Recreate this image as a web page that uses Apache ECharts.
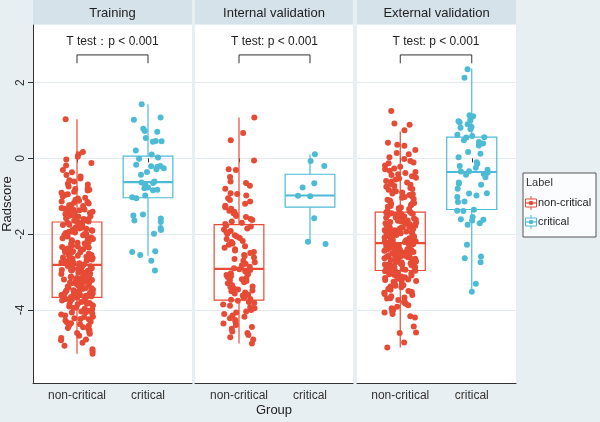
<!DOCTYPE html>
<html>
<head>
<meta charset="utf-8">
<script src="https://cdn.jsdelivr.net/npm/echarts@6/dist/echarts.min.js"></script>
<style>
    html, body { margin: 0; padding: 0; background: #e8eff3; }
    #main { width: 600px; height: 422px; }
</style>
</head>
<body>
<div id="main"></div>
<script>
    // data
    var categories = ['non-critical', 'critical'];
    var panels = ['Training', 'Internal validation', 'External validation'];
    var tests = ['T test\uff1ap < 0.001', 'T test: p < 0.001', 'T test: p < 0.001'];
    var yTicks = [-4, -2, 0, 2];
    var bracket = [2.51, 2.73];

    // [min, q1, median, q3, max] for non-critical, critical
    var trainBox = [[-5.16, -3.67, -2.81, -1.68, 1.03], [-2.57, -1.04, -0.63, 0.06, 1.43]];
    var intBox = [[-4.89, -3.74, -2.92, -1.75, 1.08], [-2.24, -1.29, -0.98, -0.42, 0.11]];
    var extBox = [[-4.99, -2.96, -2.24, -1.42, 0.71], [-3.52, -1.35, -0.36, 0.56, 2.37]];

    var trainNon = [1.03, 0.17, 0.11, 0.04, -0.03, -0.12, -0.19, -0.31, -0.37, -0.44, -0.48, -0.53, -0.58, -0.61, -0.67, -0.69,
        -0.74, -0.78, -0.81, -0.85, -0.88, -0.91, -0.95, -0.97, -1.01, -1.04, -1.06, -1.09, -1.12, -1.14, -1.17, -1.19, -1.23,
        -1.24, -1.26, -1.29, -1.31, -1.33, -1.35, -1.37, -1.38, -1.41, -1.43, -1.45, -1.47, -1.49, -1.5, -1.53, -1.54, -1.56,
        -1.58, -1.6, -1.61, -1.63, -1.65, -1.66, -1.67, -1.7, -1.72, -1.73, -1.76, -1.78, -1.8, -1.82, -1.83, -1.86, -1.88,
        -1.9, -1.91, -1.94, -1.96, -1.97, -2.0, -2.02, -2.03, -2.06, -2.08, -2.09, -2.12, -2.13, -2.16, -2.18, -2.19, -2.22,
        -2.23, -2.26, -2.28, -2.3, -2.31, -2.34, -2.35, -2.38, -2.4, -2.41, -2.44, -2.45, -2.48, -2.5, -2.52, -2.53, -2.56,
        -2.57, -2.6, -2.62, -2.63, -2.66, -2.67, -2.7, -2.71, -2.74, -2.76, -2.77, -2.79, -2.8, -2.82, -2.84, -2.85, -2.88,
        -2.89, -2.91, -2.92, -2.94, -2.96, -2.97, -2.99, -3.01, -3.02, -3.04, -3.06, -3.07, -3.09, -3.11, -3.12, -3.14, -3.16,
        -3.17, -3.19, -3.21, -3.22, -3.24, -3.26, -3.27, -3.29, -3.31, -3.32, -3.34, -3.36, -3.38, -3.39, -3.41, -3.43, -3.44,
        -3.46, -3.48, -3.5, -3.51, -3.53, -3.55, -3.57, -3.58, -3.6, -3.62, -3.63, -3.65, -3.66, -3.68, -3.7, -3.72, -3.75,
        -3.77, -3.79, -3.82, -3.84, -3.86, -3.89, -3.91, -3.94, -3.97, -3.99, -4.02, -4.04, -4.07, -4.1, -4.12, -4.15, -4.19,
        -4.22, -4.25, -4.28, -4.31, -4.35, -4.38, -4.42, -4.46, -4.5, -4.54, -4.59, -4.63, -4.68, -4.74, -4.8, -4.87, -4.95,
        -5.04, -5.16, -0.83, -1.15, -1.36, -1.52, -1.62, -1.75, -1.85, -1.99, -2.11, -2.21, -2.33, -2.43, -2.55, -2.65,
        -2.73, -2.86, -2.95, -3.05, -3.13, -3.2, -3.28, -3.35, -3.42, -3.49, -3.56, -3.64, -3.71, -3.8, -3.88, -3.95, -4.06,
        -4.18, -4.33, -4.48, -4.61, -1.44, -1.69, -1.93, -2.25, -2.47, -2.69, -2.9, -3.1, -3.3, -3.47, -3.61, -3.85, -4.01,
        -4.24, -4.41, -4.78, -5.09];
    var trainCrit = [1.43, 1.08, 1.02, 0.78, 0.72, 0.7, 0.54, 0.46, 0.45, 0.44, 0.21, 0.1, 0.02, -0.01, -0.17, -0.2, -0.21,
        -0.22, -0.26, -0.29, -0.36, -0.43, -0.61, -0.64, -0.65, -0.7, -0.77, -0.79, -0.83, -0.84, -0.98, -1.03, -1.05, -1.48,
        -1.51, -1.59, -1.64, -1.68, -1.84, -1.89, -1.99, -2.45, -2.47, -2.55, -2.7, -2.96];
    var intNon = [1.08, 0.67, 0.48, -0.06, -0.29, -0.31, -0.49, -0.61, -0.65, -0.72, -0.8, -0.92, -0.94, -0.98, -1.05, -1.1,
        -1.14, -1.2, -1.25, -1.29, -1.33, -1.38, -1.41, -1.45, -1.48, -1.52, -1.55, -1.6, -1.63, -1.67, -1.7, -1.73, -1.77,
        -1.8, -1.85, -1.88, -1.92, -1.95, -1.99, -2.03, -2.06, -2.1, -2.13, -2.18, -2.21, -2.25, -2.28, -2.32, -2.36, -2.4,
        -2.43, -2.47, -2.5, -2.55, -2.58, -2.62, -2.66, -2.7, -2.74, -2.78, -2.82, -2.86, -2.9, -2.93, -2.95, -2.98, -3.01,
        -3.03, -3.06, -3.08, -3.11, -3.13, -3.16, -3.19, -3.21, -3.24, -3.27, -3.3, -3.33, -3.35, -3.38, -3.4, -3.43, -3.46,
        -3.49, -3.51, -3.54, -3.57, -3.6, -3.62, -3.65, -3.68, -3.71, -3.73, -3.76, -3.79, -3.82, -3.86, -3.89, -3.93, -3.96,
        -4.0, -4.04, -4.07, -4.11, -4.15, -4.18, -4.22, -4.27, -4.31, -4.36, -4.4, -4.45, -4.5, -4.57, -4.61, -4.66, -4.72,
        -4.78, -4.89];
    var intCrit = [0.11, -0.07, -0.2, -0.66, -0.77, -0.99, -1.0, -1.58, -2.2, -2.26];
    var extNon = [1.25, 0.92, 0.89, 0.74, 0.41, 0.36, 0.33, 0.22, 0.14, 0.11, 0.03, -0.02, -0.07, -0.11, -0.13, -0.19, -0.22,
        -0.27, -0.29, -0.33, -0.36, -0.39, -0.42, -0.44, -0.47, -0.51, -0.53, -0.56, -0.6, -0.61, -0.64, -0.68, -0.7, -0.73,
        -0.75, -0.78, -0.81, -0.83, -0.86, -0.87, -0.9, -0.93, -0.95, -0.97, -1.0, -1.02, -1.04, -1.07, -1.09, -1.11, -1.13,
        -1.16, -1.18, -1.2, -1.22, -1.24, -1.26, -1.28, -1.3, -1.32, -1.34, -1.36, -1.38, -1.4, -1.43, -1.44, -1.45, -1.47,
        -1.48, -1.49, -1.5, -1.52, -1.53, -1.54, -1.56, -1.57, -1.58, -1.59, -1.61, -1.62, -1.63, -1.64, -1.66, -1.67, -1.68,
        -1.7, -1.71, -1.72, -1.73, -1.75, -1.76, -1.77, -1.78, -1.8, -1.81, -1.82, -1.84, -1.85, -1.86, -1.87, -1.89, -1.9,
        -1.91, -1.93, -1.94, -1.95, -1.96, -1.98, -1.99, -2.0, -2.02, -2.03, -2.04, -2.05, -2.07, -2.08, -2.09, -2.11, -2.12,
        -2.13, -2.14, -2.16, -2.17, -2.18, -2.2, -2.21, -2.22, -2.23, -2.25, -2.26, -2.27, -2.29, -2.3, -2.31, -2.32, -2.34,
        -2.35, -2.36, -2.37, -2.39, -2.4, -2.41, -2.42, -2.44, -2.45, -2.46, -2.47, -2.49, -2.5, -2.51, -2.52, -2.54, -2.55,
        -2.56, -2.57, -2.59, -2.6, -2.61, -2.62, -2.64, -2.65, -2.66, -2.67, -2.69, -2.7, -2.71, -2.72, -2.74, -2.75, -2.76,
        -2.77, -2.79, -2.8, -2.81, -2.82, -2.84, -2.85, -2.86, -2.87, -2.89, -2.9, -2.91, -2.92, -2.94, -2.95, -2.97, -2.99,
        -3.01, -3.03, -3.04, -3.06, -3.08, -3.1, -3.12, -3.14, -3.16, -3.18, -3.2, -3.22, -3.24, -3.26, -3.28, -3.31, -3.33,
        -3.35, -3.38, -3.4, -3.42, -3.45, -3.47, -3.5, -3.53, -3.55, -3.58, -3.61, -3.64, -3.67, -3.7, -3.74, -3.77, -3.8,
        -3.84, -3.88, -3.92, -3.96, -4.0, -4.04, -4.07, -4.11, -4.17, -4.2, -4.44, -4.6, -4.61, -4.86, -4.99, -1.46, -1.65,
        -1.83, -1.97, -2.06, -2.19, -2.28, -2.38, -2.48, -2.58, -2.68, -2.78, -2.88, -2.98, -3.09, -3.21, -3.36, -3.52, -3.69];
    var extCrit = [2.35, 2.13, 1.14, 1.11, 1.05, 1.0, 0.98, 0.95, 0.9, 0.83, 0.81, 0.77, 0.62, 0.59, 0.56, 0.55, 0.48, 0.43,
        0.39, 0.34, 0.17, 0.12, 0.03, -0.1, -0.14, -0.2, -0.25, -0.3, -0.34, -0.35, -0.38, -0.41, -0.43, -0.5, -0.64, -0.67,
        -0.7, -0.8, -0.92, -0.93, -0.98, -1.02, -1.14, -1.15, -1.36, -1.38, -1.39, -1.55, -1.61, -1.62, -1.64, -1.71, -1.75,
        -2.28, -2.59, -2.64, -2.74, -3.31, -3.52];

    var boxes = [trainBox, intBox, extBox];
    var points = [[trainNon, trainCrit], [intNon, intCrit], [extNon, extCrit]];

    var FONT = 'Liberation Sans, Arial, sans-serif';
    var COLORS = ['#E64B35', '#4DBBD5'];
    var YMIN = -5.93, YMAX = 3.52;
    var TOP = 25, H = 358;
    // white panel [left, width] and the narrower band grid holding the two groups
    var panelBox = [[33, 159], [195, 158], [357, 159]];
    var dataBox = [[41.5, 142], [203.5, 142], [364.5, 143]];

    function renderBox(params, api) {
        var x = api.value(0);
        var lo = api.coord([x, api.value(1)]);
        var q1 = api.coord([x, api.value(2)]);
        var md = api.coord([x, api.value(3)]);
        var q3 = api.coord([x, api.value(4)]);
        var hi = api.coord([x, api.value(5)]);
        var w = api.size([1, 0])[0] * 0.7;
        var c = api.visual('color');
        return {
            type: 'group',
            children: [
                { type: 'line', shape: { x1: lo[0], y1: lo[1], x2: q1[0], y2: q1[1] }, style: { stroke: c, lineWidth: 1.2 } },
                { type: 'line', shape: { x1: q3[0], y1: q3[1], x2: hi[0], y2: hi[1] }, style: { stroke: c, lineWidth: 1.2 } },
                { type: 'rect', shape: { x: q3[0] - w / 2, y: q3[1], width: w, height: q1[1] - q3[1] }, style: { fill: 'none', stroke: c, lineWidth: 1.2 } },
                { type: 'line', shape: { x1: md[0] - w / 2, y1: md[1], x2: md[0] + w / 2, y2: md[1] }, style: { stroke: c, lineWidth: 2.2 } }
            ]
        };
    }

    var grids = [], xAxes = [], yAxes = [], series = [], graphics = [];
    for (var i = 0; i < 3; i++) {
        grids.push({ left: panelBox[i][0], top: TOP, width: panelBox[i][1], height: H, show: true,
            backgroundColor: '#fff', borderWidth: 0, outerBoundsMode: 'none', containLabel: false });
    }
    for (var i = 0; i < 3; i++) {
        grids.push({ left: dataBox[i][0], top: TOP, width: dataBox[i][1], height: H, outerBoundsMode: 'none', containLabel: false });
    }
    for (var i = 0; i < 3; i++) {
        // background panel axes: frame lines and grid lines
        xAxes.push({
            gridIndex: i, type: 'value', min: 0, max: 1,
            axisLine: { show: true, onZero: false, lineStyle: { color: '#333' } },
            axisTick: { show: false }, axisLabel: { show: false }, splitLine: { show: false }
        });
        yAxes.push({
            gridIndex: i, type: 'value', min: YMIN, max: YMAX,
            name: i === 0 ? 'Radscore' : '', nameLocation: 'middle', nameGap: 19,
            nameTextStyle: { fontFamily: FONT, fontSize: 13, color: '#222' },
            axisLine: { show: i === 0, lineStyle: { color: '#333' } },
            axisTick: { show: i === 0, length: 5, customValues: yTicks, lineStyle: { color: '#333' } },
            axisLabel: { show: i === 0, customValues: yTicks, rotate: 90, margin: 6, fontFamily: FONT, fontSize: 12, color: '#333' },
            splitLine: { show: true, lineStyle: { color: '#e3ebf0', width: 1 } }
        });
    }
    for (var i = 0; i < 3; i++) {
        xAxes.push({
            gridIndex: i + 3, type: 'category', data: categories,
            jitter: 32, jitterOverlap: true,
            axisLine: { show: false },
            axisTick: { show: true, interval: 0, alignWithLabel: true, length: 4, lineStyle: { color: '#333' } },
            axisLabel: { interval: 0, hideOverlap: false, margin: 7, fontFamily: FONT, fontSize: 12, color: '#333' },
            splitLine: { show: false }
        });
        yAxes.push({ gridIndex: i + 3, type: 'value', min: YMIN, max: YMAX, show: false, splitLine: { show: false } });

        series.push({
            type: 'custom', xAxisIndex: i + 3, yAxisIndex: i + 3, z: 2, silent: true,
            renderItem: renderBox,
            encode: { x: 0, y: [1, 2, 3, 4, 5] },
            data: boxes[i].map(function (b, k) {
                return { value: [k].concat(b), itemStyle: { color: COLORS[k] } };
            })
        });
        for (var k = 0; k < 2; k++) {
            series.push({
                type: 'scatter', xAxisIndex: i + 3, yAxisIndex: i + 3, z: 3, silent: true,
                symbolSize: 6,
                itemStyle: { color: COLORS[k], opacity: 1 },
                data: points[i][k].map(function (v) { return [k, v]; })
            });
        }
        series.push({
            type: 'line', xAxisIndex: i + 3, yAxisIndex: i + 3, z: 4, silent: true,
            symbol: 'none',
            lineStyle: { color: '#333', width: 1 },
            data: [[0, bracket[0]], [0, bracket[1]], [1, bracket[1]], [1, bracket[0]]]
        });

        // strip header
        graphics.push({ type: 'rect', shape: { x: panelBox[i][0], y: 0, width: panelBox[i][1], height: 24 }, style: { fill: '#d5e2ea' } });
        graphics.push({
            type: 'text', x: panelBox[i][0] + panelBox[i][1] / 2, y: 13,
            style: { text: panels[i], font: '13px ' + FONT, fill: '#222', align: 'center', verticalAlign: 'middle' }
        });
        graphics.push({
            type: 'text', x: dataBox[i][0] + dataBox[i][1] / 2, y: 42,
            style: { text: tests[i], font: '12px ' + FONT, fill: '#222', align: 'center', verticalAlign: 'middle' }
        });
    }

    graphics.push({
        type: 'text', x: 274, y: 410,
        style: { text: 'Group', font: '13px ' + FONT, fill: '#222', align: 'center', verticalAlign: 'middle' }
    });

    // legend
    var legendItems = [];
    legendItems.push({ type: 'rect', shape: { x: 523, y: 173, width: 73, height: 64 }, style: { fill: '#fafcfd', stroke: '#555', lineWidth: 1 } });
    legendItems.push({ type: 'text', x: 526, y: 183, style: { text: 'Label', font: '11px ' + FONT, fill: '#333', align: 'left', verticalAlign: 'middle' } });
    categories.forEach(function (name, k) {
        var cy = 203 + k * 19;
        var c = COLORS[k];
        legendItems.push({ type: 'line', shape: { x1: 531, y1: cy - 7, x2: 531, y2: cy + 7 }, style: { stroke: c, lineWidth: 1 } });
        legendItems.push({ type: 'rect', shape: { x: 525.5, y: cy - 4, width: 11, height: 8 }, style: { fill: '#fff', stroke: c, lineWidth: 1 } });
        legendItems.push({ type: 'line', shape: { x1: 525.5, y1: cy, x2: 536.5, y2: cy }, style: { stroke: c, lineWidth: 1.2 } });
        legendItems.push({ type: 'circle', shape: { cx: 531, cy: cy, r: 2.3 }, style: { fill: c } });
        legendItems.push({ type: 'text', x: 538, y: cy, style: { text: name, font: '11px ' + FONT, fill: '#222', align: 'left', verticalAlign: 'middle' } });
    });
    graphics = graphics.concat(legendItems);

    var chart = echarts.init(document.getElementById('main'));
    chart.setOption({
        backgroundColor: '#e8eff3',
        animation: false,
        grid: grids,
        xAxis: xAxes,
        yAxis: yAxes,
        series: series,
        graphic: graphics
    });
</script>
</body>
</html>
